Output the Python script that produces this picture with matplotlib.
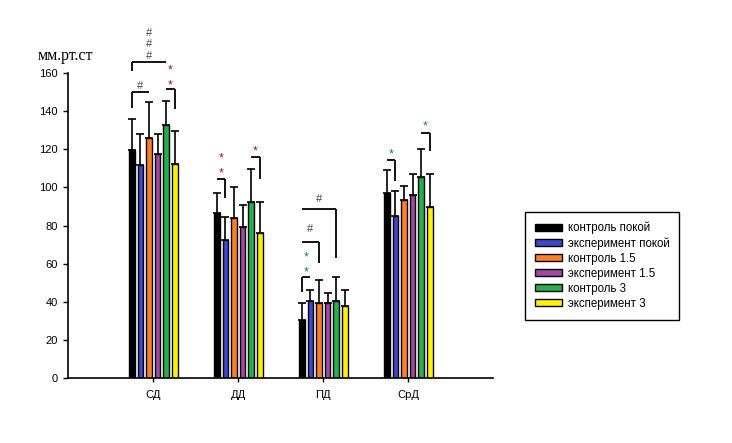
import numpy as np
import matplotlib
matplotlib.use("Agg")
import matplotlib.pyplot as plt

plt.rcParams["font.family"] = ["Liberation Sans", "DejaVu Sans"]

# %%
groups = ["СД", "ДД", "ПД", "СрД"]
series = ["контроль покой", "эксперимент покой", "контроль 1.5",
          "эксперимент 1.5", "контроль 3", "эксперимент 3"]
colors = ["#000000", "#3f48cc", "#ff7f27", "#a349a4", "#22b14c", "#fff200"]

# mean values, rows = series, cols = groups
means = [
    [119.5, 86.6, 30.4, 97.1],
    [111.6, 72.4, 40.2, 84.8],
    [125.9, 83.8, 39.2, 93.4],
    [117.4, 79.0, 39.2, 96.0],
    [132.6, 92.2, 40.2, 105.5],
    [112.1, 75.9, 37.8, 89.7],
]
# upper error bar ends
upper = [
    [135.7, 96.9, 39.5, 109.0],
    [128.2, 84.3, 46.3, 98.1],
    [144.6, 100.4, 51.6, 100.6],
    [128.2, 90.9, 44.8, 106.9],
    [145.2, 109.5, 52.8, 120.0],
    [129.4, 92.2, 46.0, 106.9],
]

# significance brackets: group, bar from, bar to, line height, leg side, leg end, symbol, symbol heights
brackets = [
    (0, 0, 2, 150.0, "left", 141.6, "#", [153.0]),
    (0, 0, 4, 165.6, "left", 161.2, "#", [169.0, 175.0, 181.0]),
    (0, 4, 5, 151.4, "right", 141.0, "*r", [153.4, 161.4]),
    (1, 0, 1, 104.2, "right", 94.2, "*r", [107.4, 115.2]),
    (1, 4, 5, 115.7, "right", 104.2, "*r", [118.9]),
    (2, 0, 1, 52.8, "left", 45.3, "*g", [55.2, 63.1]),
    (2, 0, 2, 71.2, "right", 60.2, "#", [78.0]),
    (2, 0, 4, 88.4, "right", 63.2, "#", [93.7]),
    (3, 0, 1, 114.2, "right", 103.5, "*g", [117.3]),
    (3, 4, 5, 128.4, "right", 119.2, "*g", [132.0]),
]
symbol_style = {
    "#": ("#", "#444444", 8),
    "*r": ("*", "#8b1a1a", 9),
    "*g": ("*", "#1f7f4f", 9),
}

# %%
fig = plt.figure(figsize=(7.32, 4.43), dpi=100)
ax = fig.add_axes([68.3 / 732, 1 - 378 / 443, 425 / 732, 305 / 443])

step = 0.101
width = 0.065
x = np.arange(len(groups))

def bar_x(g, s):
    return g + (s - 2.5) * step

for s in range(len(series)):
    xs = x + (s - 2.5) * step
    m = np.array(means[s])
    err = np.array(upper[s]) - m
    ax.bar(xs, m, width=width, color=colors[s], edgecolor="black",
           linewidth=1.0, label=series[s], zorder=2)
    ax.errorbar(xs, m, yerr=[np.zeros_like(m), err], fmt="none",
                ecolor="black", elinewidth=1.2, capsize=3, capthick=1.2, zorder=3)

for g, b0, b1, h, side, leg, sym, heights in brackets:
    x0 = bar_x(g, b0)
    x1 = bar_x(g, b1)
    xl = x0 if side == "left" else x1
    ax.plot([x0, x1], [h, h], color="black", lw=1.3, clip_on=False,
            solid_capstyle="butt")
    ax.plot([xl, xl], [h, leg], color="black", lw=1.3, clip_on=False,
            solid_capstyle="butt")
    txt, col, fs = symbol_style[sym]
    for hh in heights:
        ax.text((x0 + x1) / 2, hh, txt, color=col, fontsize=fs,
                ha="center", va="center", clip_on=False)

ax.set_xlim(-1, 4)
ax.set_ylim(0, 160)
ax.set_yticks(range(0, 161, 20))
ax.set_xticks(x)
ax.set_xticklabels(groups)
ax.tick_params(axis="y", length=3.5, width=1, pad=4, labelsize=8)
ax.tick_params(axis="x", length=3, width=1, pad=6, labelsize=8)
for sp in ["top", "right"]:
    ax.spines[sp].set_visible(False)
for sp in ["left", "bottom"]:
    ax.spines[sp].set_linewidth(1.2)

fig.text(38 / 732, 1 - 56 / 443, "мм.рт.ст", family="Liberation Serif",
         fontsize=11.5, va="center", ha="left")

leg = fig.legend(loc="upper left", bbox_to_anchor=(525 / 732, 1 - 212 / 443),
                 fontsize=8.3, frameon=True, fancybox=False, framealpha=1,
                 edgecolor="black", handlelength=2.4, handleheight=0.55,
                 handletextpad=0.45, labelspacing=0.26, borderpad=0.85,
                 borderaxespad=0)
leg.get_frame().set_linewidth(1.0)

fig.savefig("out.png", dpi=100)
